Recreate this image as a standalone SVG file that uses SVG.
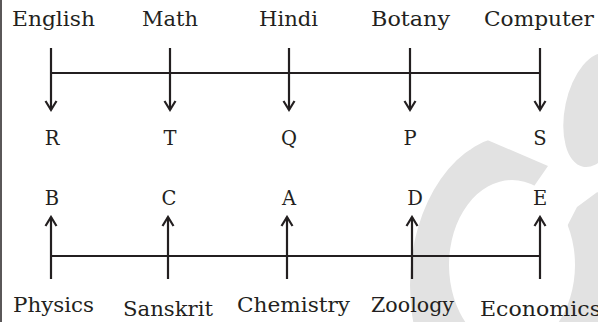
<svg xmlns="http://www.w3.org/2000/svg" width="598" height="322" viewBox="0 0 598 322">
<style>
.lbl{font-family:"DejaVu Serif","Liberation Serif",serif;font-size:20px;fill:#231f20}
.ltr{font-family:"DejaVu Serif","Liberation Serif",serif;font-size:19.5px;fill:#231f20;text-anchor:middle}
.ln{stroke:#231f20;stroke-width:2.2;fill:none}
.wm{fill:#e2e2e2}
</style>
<defs>
<marker id="ah" markerUnits="userSpaceOnUse" markerWidth="14" markerHeight="14" viewBox="-11 -7 13 14" refX="0" refY="0" orient="auto">
<path d="M-9,-5.5 L0,0 L-9,5.5" fill="none" stroke="#231f20" stroke-width="2.2"/>
</marker>
</defs>
<rect width="598" height="322" fill="#ffffff"/>
<g id="watermark">
<path class="wm" fill-rule="evenodd" d="M410,285 A105,150 0 1,0 620,285 A105,150 0 1,0 410,285 Z M449,265 A63,85 0 1,0 575,265 A63,85 0 1,0 449,265 Z"/>
<polygon fill="#ffffff" points="470,100 470,150 478,136 548,166 530,192 560,240 577,207 600,190 600,100"/>
<ellipse class="wm" cx="595" cy="110" rx="30" ry="58" transform="rotate(12 595 110)"/>
</g>
<line x1="1" y1="0" x2="1" y2="322" stroke="#231f20" stroke-width="1.5"/>
<g id="connectors">
<line class="ln" x1="51" y1="73" x2="540" y2="73"/>
<line class="ln" x1="51" y1="48" x2="51" y2="110" marker-end="url(#ah)"/>
<line class="ln" x1="170" y1="48" x2="170" y2="110" marker-end="url(#ah)"/>
<line class="ln" x1="289" y1="48" x2="289" y2="110" marker-end="url(#ah)"/>
<line class="ln" x1="410" y1="48" x2="410" y2="110" marker-end="url(#ah)"/>
<line class="ln" x1="540" y1="48" x2="540" y2="110" marker-end="url(#ah)"/>
<line class="ln" x1="51" y1="256" x2="540" y2="256"/>
<line class="ln" x1="51" y1="279" x2="51" y2="217" marker-end="url(#ah)"/>
<line class="ln" x1="168" y1="279" x2="168" y2="217" marker-end="url(#ah)"/>
<line class="ln" x1="287" y1="279" x2="287" y2="217" marker-end="url(#ah)"/>
<line class="ln" x1="412" y1="279" x2="412" y2="217" marker-end="url(#ah)"/>
<line class="ln" x1="540" y1="279" x2="540" y2="217" marker-end="url(#ah)"/>
</g>
<g id="english"><text class="lbl" x="12" y="26" textLength="83" lengthAdjust="spacingAndGlyphs">English</text></g>
<g id="math"><text class="lbl" x="142" y="26" textLength="56" lengthAdjust="spacingAndGlyphs">Math</text></g>
<g id="hindi"><text class="lbl" x="259" y="26" textLength="59" lengthAdjust="spacingAndGlyphs">Hindi</text></g>
<g id="botany"><text class="lbl" x="371" y="26" textLength="79" lengthAdjust="spacingAndGlyphs">Botany</text></g>
<g id="computer"><text class="lbl" x="484" y="26" textLength="110" lengthAdjust="spacingAndGlyphs">Computer</text></g>
<g id="r"><text class="ltr" x="52" y="145">R</text></g>
<g id="t"><text class="ltr" x="170" y="145">T</text></g>
<g id="q"><text class="ltr" x="289" y="145">Q</text></g>
<g id="p"><text class="ltr" x="410" y="145">P</text></g>
<g id="s"><text class="ltr" x="540" y="145">S</text></g>
<g id="b"><text class="ltr" x="52" y="205">B</text></g>
<g id="c"><text class="ltr" x="169" y="205">C</text></g>
<g id="a"><text class="ltr" x="289" y="205">A</text></g>
<g id="d"><text class="ltr" x="415" y="205">D</text></g>
<g id="e"><text class="ltr" x="540" y="205">E</text></g>
<g id="physics"><text class="lbl" x="13" y="312" textLength="81" lengthAdjust="spacingAndGlyphs">Physics</text></g>
<g id="sanskrit"><text class="lbl" x="123" y="316" textLength="90" lengthAdjust="spacingAndGlyphs">Sanskrit</text></g>
<g id="chemistry"><text class="lbl" x="237" y="312" textLength="113" lengthAdjust="spacingAndGlyphs">Chemistry</text></g>
<g id="zoology"><text class="lbl" x="371" y="312" textLength="83" lengthAdjust="spacingAndGlyphs">Zoology</text></g>
<g id="economics"><text class="lbl" x="480" y="316" textLength="121" lengthAdjust="spacingAndGlyphs">Economics</text></g>
</svg>
